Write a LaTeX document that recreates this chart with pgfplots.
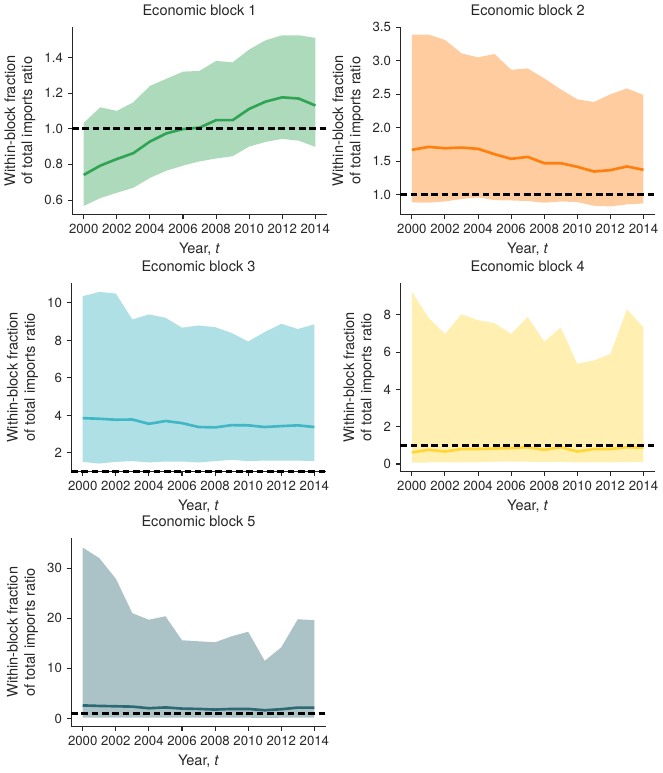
\documentclass[border=0pt]{standalone}
\usepackage{fontspec}
\setmainfont{TeX Gyre Heros}
\usepackage{pgfplots}
\usepackage{pgfplotstable}
\pgfplotsset{compat=1.18}
\definecolor{cgreen}{RGB}{49,163,84}
\definecolor{corange}{RGB}{255,127,14}
\definecolor{ccyan}{RGB}{65,182,196}
\definecolor{cyellow}{RGB}{255,214,50}
\definecolor{cslate}{RGB}{45,105,115}
\definecolor{txt}{RGB}{38,38,38}

\pgfplotstableread{
year lo mean hi
2000 0.567 0.741 1.033
2001 0.611 0.793 1.120
2002 0.641 0.830 1.100
2003 0.669 0.863 1.148
2004 0.724 0.928 1.240
2005 0.765 0.974 1.280
2006 0.793 0.998 1.320
2007 0.817 1.006 1.324
2008 0.833 1.048 1.380
2009 0.846 1.048 1.372
2010 0.900 1.111 1.444
2011 0.926 1.152 1.496
2012 0.943 1.176 1.524
2013 0.933 1.169 1.524
2014 0.898 1.130 1.509
}\dA
\pgfplotstableread{
year lo mean hi
2000 0.886 1.670 3.390
2001 0.881 1.714 3.390
2002 0.900 1.694 3.310
2003 0.936 1.704 3.110
2004 0.960 1.685 3.050
2005 0.920 1.605 3.100
2006 0.915 1.536 2.865
2007 0.906 1.565 2.885
2008 0.881 1.471 2.736
2009 0.900 1.471 2.572
2010 0.890 1.417 2.424
2011 0.836 1.347 2.384
2012 0.826 1.367 2.498
2013 0.856 1.422 2.587
2014 0.871 1.372 2.488
}\dB
\pgfplotstableread{
year lo mean hi
2000 1.52 3.855 10.36
2001 1.43 3.82 10.59
2002 1.52 3.77 10.50
2003 1.56 3.78 9.12
2004 1.49 3.55 9.39
2005 1.54 3.70 9.21
2006 1.54 3.59 8.68
2007 1.49 3.38 8.80
2008 1.56 3.36 8.71
2009 1.63 3.48 8.40
2010 1.56 3.47 7.94
2011 1.59 3.38 8.45
2012 1.59 3.43 8.89
2013 1.59 3.47 8.61
2014 1.56 3.38 8.86
}\dC
\pgfplotstableread{
year lo mean hi
2000 0.07 0.62 9.24
2001 0.08 0.76 7.85
2002 0.08 0.67 6.97
2003 0.09 0.80 8.03
2004 0.09 0.80 7.71
2005 0.12 0.83 7.55
2006 0.12 0.85 6.97
2007 0.12 0.90 7.89
2008 0.11 0.76 6.56
2009 0.11 0.90 7.32
2010 0.08 0.67 5.37
2011 0.08 0.80 5.55
2012 0.09 0.80 5.90
2013 0.10 0.90 8.30
2014 0.10 0.87 7.32
}\dD
\pgfplotstableread{
year lo mean hi
2000 0.15 2.60 34.1
2001 0.15 2.50 32.0
2002 0.15 2.43 27.9
2003 0.15 2.36 21.0
2004 0.15 2.04 19.7
2005 0.15 2.20 20.4
2006 0.15 1.97 15.6
2007 0.15 1.90 15.4
2008 0.15 1.77 15.2
2009 0.15 1.90 16.4
2010 0.15 1.90 17.3
2011 0.10 1.64 11.5
2012 0.15 1.84 14.2
2013 0.15 2.17 19.8
2014 0.15 2.17 19.6
}\dE

\pgfplotsset{
  blk/.style={
    anchor=north west,
    scale only axis, width=192.75pt, height=142.5pt,
    axis x line*=bottom, axis y line*=left,
    clip=false,
    xmin=1999.3, xmax=2014.7,
    xtick={2000,2002,...,2014},
    xticklabel style={/pgf/number format/1000 sep={}},
    /pgf/number format/assume math mode=true,
    tick align=outside,
    major tick length=3.5pt,
    axis line style={txt, line width=0.9pt},
    every tick/.style={txt, line width=0.8pt},
    tick label style={font=\fontsize{10}{11}\selectfont, text=txt},
    label style={font=\fontsize{11}{13}\selectfont, text=txt},
    title style={font=\fontsize{11}{13}\selectfont, text=txt, yshift=-1pt},
    xlabel={Year, \textit{t}},
    ylabel={Within-block fraction\\of total imports ratio},
    ylabel style={align=center},
  },
  dec1/.style={yticklabel style={/pgf/number format/.cd, fixed, fixed zerofill, precision=1}},
}

\newcommand{\band}[3]{%
  \addplot[draw=none, stack plots=y, forget plot] table[x=year, y=lo] {#1};
  \addplot[fill=#2, fill opacity=#3, draw=none, stack plots=y, forget plot]
    table[x=year, y expr=\thisrow{hi}-\thisrow{lo}] {#1} \closedcycle;
  \addplot[#2, line width=2pt, stack plots=false] table[x=year, y=mean] {#1};
  \addplot[black, line width=2pt, dash pattern=on 5pt off 2.8pt, stack plots=false] coordinates {(1999.3,1) (2014.7,1)};
}

\begin{document}
\begin{tikzpicture}
\path (0,0) rectangle (498.75pt,-579.75pt);

\begin{axis}[blk, dec1, at={(51.75pt,-15pt)}, title={Economic block 1},
  ymin=0.517, ymax=1.573, ytick={0.6,0.8,1.0,1.2,1.4}]
\band{\dA}{cgreen}{0.4}
\end{axis}

\begin{axis}[blk, dec1, at={(300pt,-15pt)}, title={Economic block 2},
  ymin=0.70, ymax=3.51, ytick={1.0,1.5,2.0,2.5,3.0,3.5}]
\band{\dB}{corange}{0.4}
\end{axis}

\begin{axis}[blk, at={(51pt,-209.25pt)}, title={Economic block 3},
  ymin=1.0, ymax=11.05, ytick={2,4,6,8,10}]
\band{\dC}{ccyan}{0.42}
\end{axis}

\begin{axis}[blk, at={(300pt,-209.25pt)}, title={Economic block 4},
  ymin=-0.41, ymax=9.69, ytick={0,2,4,6,8}]
\band{\dD}{cyellow}{0.38}
\end{axis}

\begin{axis}[blk, at={(51pt,-402pt)}, title={Economic block 5},
  ymin=-1.6, ymax=36.0, ytick={0,10,20,30}]
\band{\dE}{cslate}{0.4}
\end{axis}
\end{tikzpicture}
\end{document}
